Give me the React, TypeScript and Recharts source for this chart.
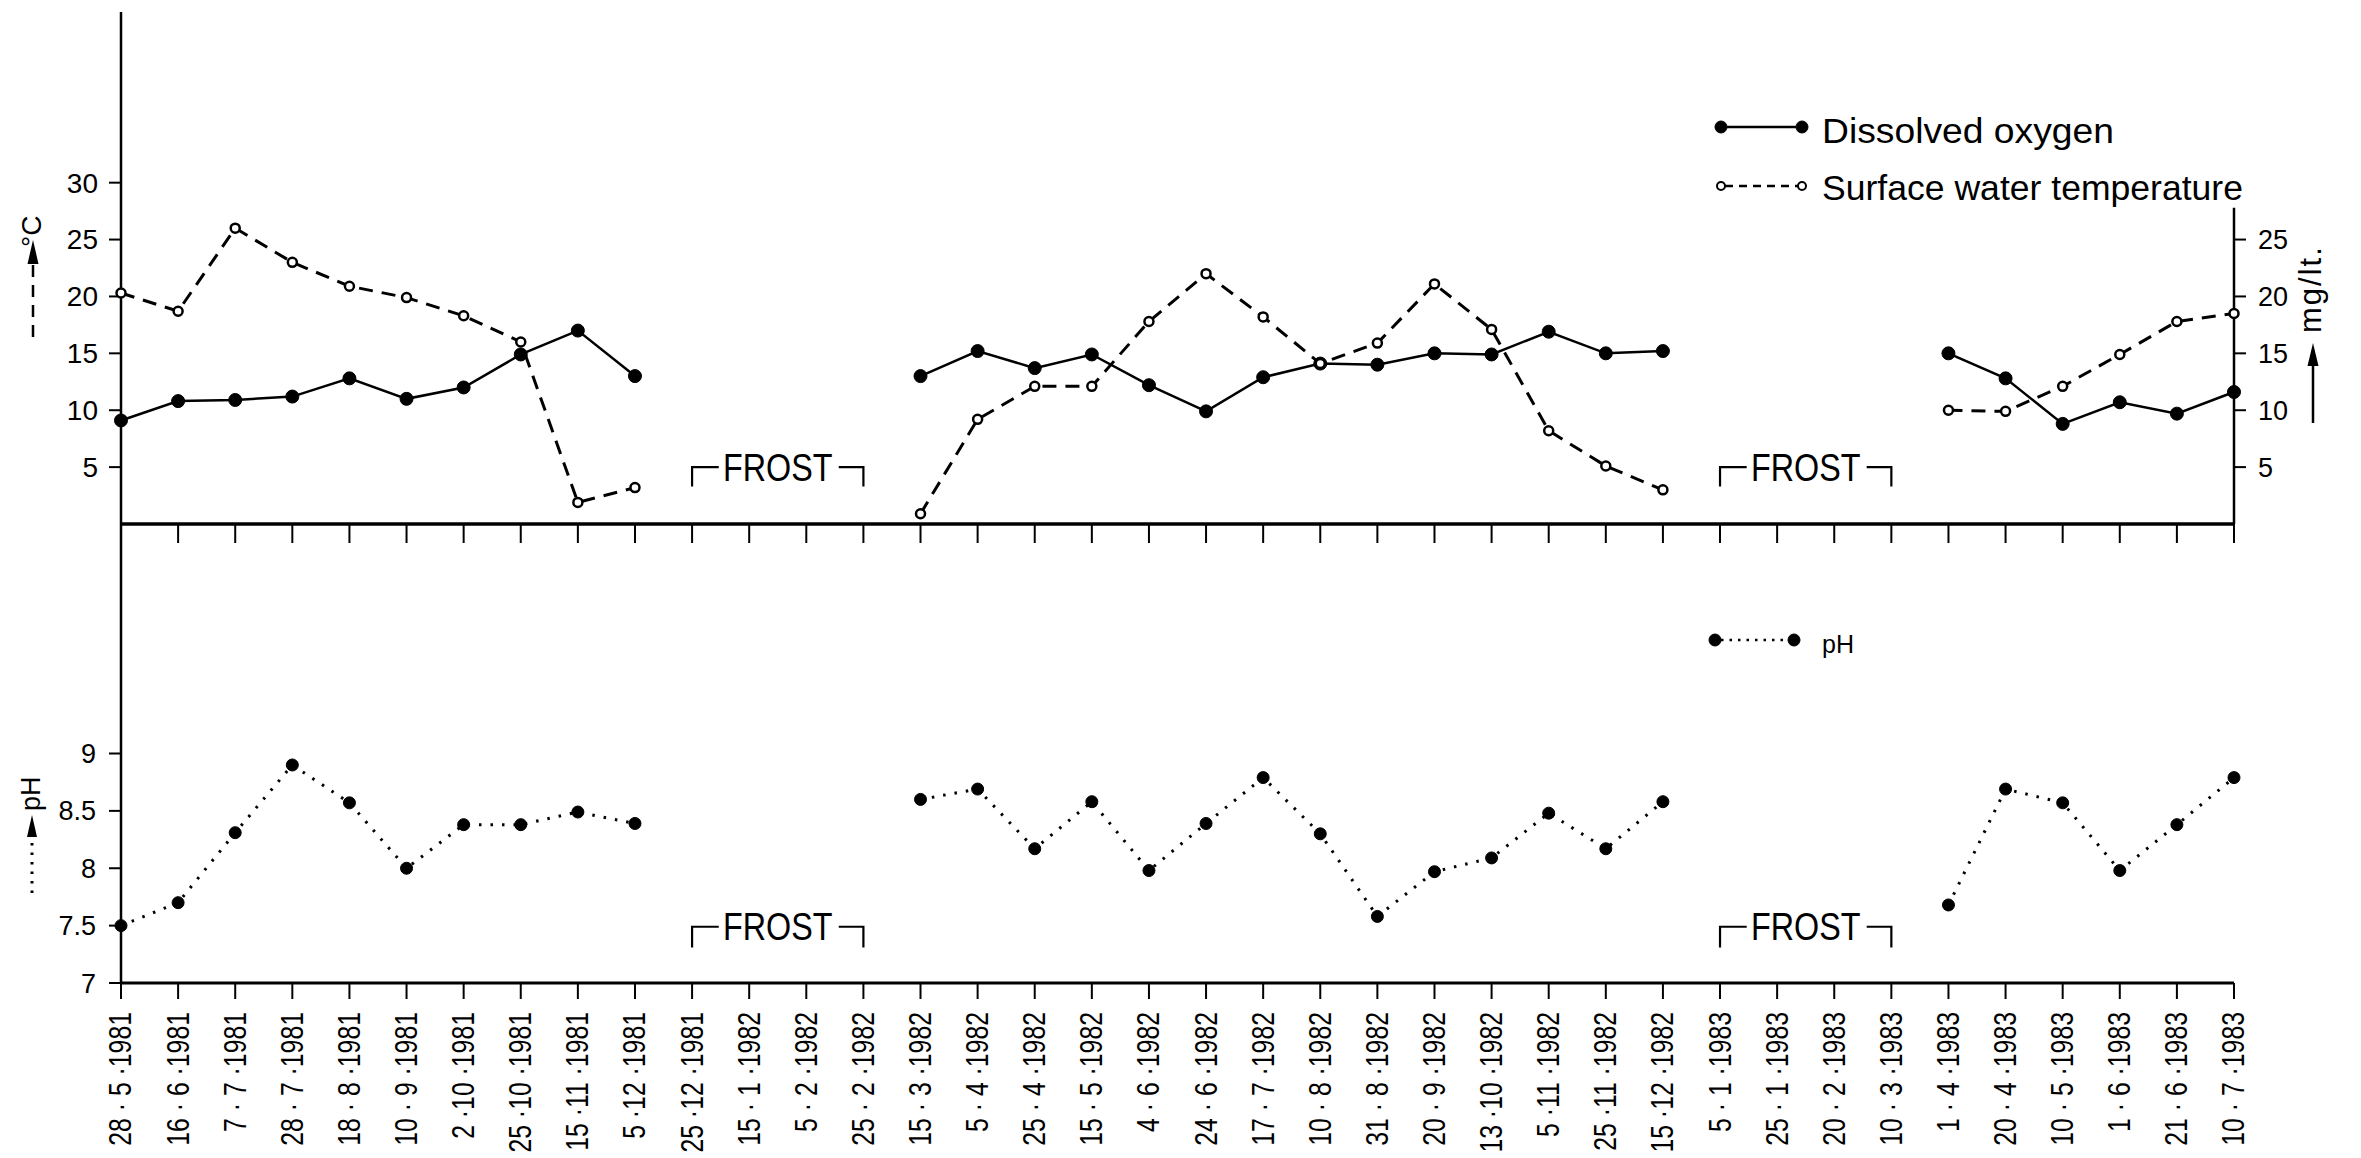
import React from 'react';
import { LineChart, Line, XAxis, YAxis, ReferenceArea, ReferenceLine, Legend } from 'recharts';

// ---------- data ----------
const dates: string[] = [
  '28 · 5 ·1981', '16 · 6 ·1981', '7 · 7 ·1981', '28 · 7 ·1981', '18 · 8 ·1981', '10 · 9 ·1981',
  '2 ·10 ·1981', '25 ·10 ·1981', '15 ·11 ·1981', '5 ·12 ·1981', '25 ·12 ·1981',
  '15 · 1 ·1982', '5 · 2 ·1982', '25 · 2 ·1982', '15 · 3 ·1982', '5 · 4 ·1982', '25 · 4 ·1982',
  '15 · 5 ·1982', '4 · 6 ·1982', '24 · 6 ·1982', '17 · 7 ·1982', '10 · 8 ·1982', '31 · 8 ·1982',
  '20 · 9 ·1982', '13 ·10 ·1982', '5 ·11 ·1982', '25 ·11 ·1982', '15 ·12 ·1982',
  '5 · 1 ·1983', '25 · 1 ·1983', '20 · 2 ·1983', '10 · 3 ·1983', '1 · 4 ·1983', '20 · 4 ·1983',
  '10 · 5 ·1983', '1 · 6 ·1983', '21 · 6 ·1983', '10 · 7 ·1983',
];

const dissolvedOxygen: (number | null)[] = [
  9.1, 10.8, 10.9, 11.2, 12.8, 11.0, 12.0, 14.9, 17.0, 13.0,
  null, null, null, null,
  13.0, 15.2, 13.7, 14.9, 12.2, 9.9, 12.9, 14.1, 14.0, 15.0, 14.9, 16.9, 15.0, 15.2,
  null, null, null, null,
  15.0, 12.8, 8.8, 10.7, 9.7, 11.6,
];

const waterTemperature: (number | null)[] = [
  20.3, 18.7, 26.0, 23.0, 20.9, 19.9, 18.3, 16.0, 1.9, 3.2,
  null, null, null, null,
  0.9, 9.2, 12.1, 12.1, 17.8, 22.0, 18.2, 14.1, 15.9, 21.1, 17.1, 8.2, 5.1, 3.0,
  null, null, null, null,
  10.0, 9.9, 12.1, 14.9, 17.8, 18.5,
];

const phValues: (number | null)[] = [
  7.5, 7.7, 8.31, 8.9, 8.57, 8.0, 8.38, 8.38, 8.49, 8.39,
  null, null, null, null,
  8.6, 8.69, 8.17, 8.58, 7.98, 8.39, 8.79, 8.3, 7.58, 7.97, 8.09, 8.48, 8.17, 8.58,
  null, null, null, null,
  7.68, 8.69, 8.57, 7.98, 8.38, 8.79,
];

const tempTicks = [5, 10, 15, 20, 25, 30];
const oxygenTicks = [5, 10, 15, 20, 25];
const phTicks = [7, 7.5, 8, 8.5, 9];
const frostPeriods: [string, string][] = [
  ['25 ·12 ·1981', '25 · 2 ·1982'],
  ['5 · 1 ·1983', '10 · 3 ·1983'],
];

const upperData = dates.map((d, i) => ({ date: d, oxygen: dissolvedOxygen[i], temp: waterTemperature[i] }));
const lowerData = dates.map((d, i) => ({ date: d, ph: phValues[i] }));

// ---------- drawing helpers ----------
const INK = '#000';
const FONT = '"Liberation Sans", Arial, Helvetica, sans-serif';

const EmptyTick = () => <g />;

const DateTick = (props: any) => {
  const { x, y, payload } = props;
  return (
    <text
      transform={`translate(${x} ${y}) rotate(-90) scale(0.8 1)`}
      textAnchor="end"
      dominantBaseline="central"
      fontSize={31}
      fill={INK}
      fontFamily={FONT}
    >
      {payload.value}
    </text>
  );
};

const OpenDot = (props: any) => {
  const { cx, cy, value, index } = props;
  if (value == null || cx == null || cy == null || isNaN(cx) || isNaN(cy)) return <g key={`od-${index}`} />;
  return <circle key={`od-${index}`} cx={cx} cy={cy} r={4.5} fill="#fff" stroke={INK} strokeWidth={2.5} />;
};

const FrostShape = (props: any) => {
  const { x, y, width, height } = props;
  const cx = x + width / 2;
  const half = 55;
  return (
    <g>
      <path d={`M${x},${y + height} L${x},${y} L${cx - half - 4},${y}`} stroke={INK} strokeWidth={2.2} fill="none" />
      <path d={`M${cx + half + 6},${y} L${x + width},${y} L${x + width},${y + height}`} stroke={INK} strokeWidth={2.2} fill="none" />
      <text
        transform={`translate(${cx} ${y}) scale(0.85 1)`}
        textAnchor="middle"
        dominantBaseline="central"
        fontSize={38}
        fill={INK}
        fontFamily={FONT}
      >
        FROST
      </text>
    </g>
  );
};

const CelsiusLabel = () => (
  <g>
    <line x1={33} y1={337} x2={33} y2={262} stroke={INK} strokeWidth={2.5} strokeDasharray="12 8" />
    <path d="M33,240 L27.5,264 L38.5,264 Z" fill={INK} />
    <text transform="translate(31 247) rotate(-90)" textAnchor="start" dominantBaseline="central" fontSize={28} fill={INK} fontFamily={FONT}>
      °C
    </text>
  </g>
);

const MgLabel = () => (
  <g>
    <line x1={2313} y1={423} x2={2313} y2={362} stroke={INK} strokeWidth={2.5} />
    <path d="M2313,343 L2307.5,366 L2318.5,366 Z" fill={INK} />
    <text transform="translate(2321 333) rotate(-90)" textAnchor="start" fontSize={31} letterSpacing={2} fill={INK} fontFamily={FONT}>
      mg/lt.
    </text>
  </g>
);

const PhAxisLabel = () => (
  <g>
    <line x1={32} y1={369} x2={32} y2={311} stroke={INK} strokeWidth={3} strokeDasharray="2.5 7" />
    <path d="M32,291 L27,313 L37,313 Z" fill={INK} />
    <text transform="translate(31 287) rotate(-90)" textAnchor="start" dominantBaseline="central" fontSize={27} fill={INK} fontFamily={FONT}>
      pH
    </text>
  </g>
);

const legendLook: Record<string, any> = {
  oxygen: { y: 27, textY: 43, fontSize: 35, textLength: 292, filled: true, r: 6, dash: undefined, x1: 21, x2: 102 },
  temp: { y: 86, textY: 100, fontSize: 35, textLength: 421, filled: false, r: 4, dash: '8 6', x1: 21, x2: 102 },
  ph: { y: 16, textY: 29, fontSize: 25, textLength: undefined, filled: true, r: 6, dash: '2.5 6', x1: 15, x2: 94 },
};

const LegendContent = (props: any) => {
  const payload = props.payload || [];
  return (
    <svg width={620} height={130} style={{ overflow: 'visible' }}>
      {payload.map((entry: any) => {
        const look = legendLook[entry.dataKey as string];
        if (!look) return null;
        const dotProps = look.filled
          ? { fill: INK, stroke: INK, strokeWidth: 1 }
          : { fill: '#fff', stroke: INK, strokeWidth: 2 };
        return (
          <g key={entry.dataKey}>
            <line
              x1={look.x1 + look.r}
              y1={look.y}
              x2={look.x2 - look.r}
              y2={look.y}
              stroke={INK}
              strokeWidth={2.5}
              strokeDasharray={look.dash}
            />
            <circle cx={look.x1} cy={look.y} r={look.r} {...dotProps} />
            <circle cx={look.x2} cy={look.y} r={look.r} {...dotProps} />
            <text
              x={122}
              y={look.textY}
              fontSize={look.fontSize}
              fill={INK}
              fontFamily={FONT}
              textLength={look.textLength}
              lengthAdjust="spacingAndGlyphs"
            >
              {entry.value}
            </text>
          </g>
        );
      })}
    </svg>
  );
};

export default function App() {
  const lastDate = dates[dates.length - 1];
  return (
    <div
      style={{
        position: 'absolute',
        left: 0,
        top: 0,
        width: 2361,
        height: 1158,
        background: '#fff',
        fontFamily: FONT,
        overflow: 'hidden',
      }}
    >
      {/* lower panel: pH */}
      <div style={{ position: 'absolute', left: 0, top: 524 }}>
        <LineChart width={2361} height={634} data={lowerData} margin={{ top: 0, right: 127, bottom: 0, left: 0 }}>
          <XAxis
            dataKey="date"
            scale="point"
            interval={0}
            height={175}
            tickSize={16}
            tickMargin={13}
            tick={DateTick}
            axisLine={{ stroke: INK, strokeWidth: 3 }}
            tickLine={{ stroke: INK, strokeWidth: 2 }}
          />
          <YAxis
            yAxisId="ph"
            type="number"
            domain={[7, 11]}
            ticks={phTicks}
            width={121}
            tickSize={12}
            tickMargin={13}
            axisLine={{ stroke: INK, strokeWidth: 2.5 }}
            tickLine={{ stroke: INK, strokeWidth: 2 }}
            tick={{ fontSize: 27, fill: INK }}
            label={{ content: PhAxisLabel }}
          />
          {frostPeriods.map(([a, b]) => (
            <ReferenceArea key={a} yAxisId="ph" x1={a} x2={b} y1={7.31} y2={7.49} shape={FrostShape} />
          ))}
          <Line
            yAxisId="ph"
            dataKey="ph"
            name="pH"
            stroke={INK}
            strokeWidth={3}
            strokeDasharray="2.5 9"
            dot={{ r: 6, fill: INK, stroke: INK, strokeWidth: 1, strokeDasharray: '0' }}
            activeDot={false}
            isAnimationActive={false}
          />
          <Legend
            layout="vertical"
            verticalAlign="middle"
            align="center"
            content={LegendContent}
            wrapperStyle={{ left: 1700, top: 100, width: 620, height: 130 }}
          />
        </LineChart>
      </div>

      {/* upper panel: temperature and dissolved oxygen */}
      <div style={{ position: 'absolute', left: 0, top: 0 }}>
        <LineChart width={2361} height={560} data={upperData} margin={{ top: 12, right: 0, bottom: 0, left: 0 }}>
          <XAxis
            dataKey="date"
            scale="point"
            interval={0}
            height={36}
            tickSize={19}
            tick={EmptyTick}
            axisLine={{ stroke: INK, strokeWidth: 3.5 }}
            tickLine={{ stroke: INK, strokeWidth: 2 }}
          />
          <YAxis
            yAxisId="temp"
            type="number"
            domain={[0, 45]}
            ticks={tempTicks}
            width={121}
            tickSize={12}
            tickMargin={11}
            axisLine={{ stroke: INK, strokeWidth: 2.5 }}
            tickLine={{ stroke: INK, strokeWidth: 2 }}
            tick={{ fontSize: 28, fill: INK }}
            label={{ content: CelsiusLabel }}
          />
          <YAxis
            yAxisId="oxygen"
            orientation="right"
            type="number"
            domain={[0, 45]}
            ticks={oxygenTicks}
            width={127}
            tickSize={12}
            tickMargin={12}
            axisLine={false}
            tickLine={{ stroke: INK, strokeWidth: 2 }}
            tick={{ fontSize: 27, fill: INK }}
            label={{ content: MgLabel }}
          />
          <ReferenceLine
            yAxisId="oxygen"
            segment={[{ x: lastDate, y: 0 }, { x: lastDate, y: 27.8 }]}
            stroke={INK}
            strokeWidth={2.5}
          />
          {frostPeriods.map(([a, b]) => (
            <ReferenceArea key={a} yAxisId="temp" x1={a} x2={b} y1={3.3} y2={5} shape={FrostShape} />
          ))}
          <Line
            yAxisId="oxygen"
            dataKey="oxygen"
            name="Dissolved oxygen"
            stroke={INK}
            strokeWidth={2.5}
            dot={{ r: 6.5, fill: INK, stroke: INK, strokeWidth: 1 }}
            activeDot={false}
            isAnimationActive={false}
          />
          <Line
            yAxisId="temp"
            dataKey="temp"
            name="Surface water temperature"
            stroke={INK}
            strokeWidth={3}
            strokeDasharray="14 9"
            dot={OpenDot}
            activeDot={false}
            isAnimationActive={false}
          />
          <Legend
            layout="vertical"
            verticalAlign="middle"
            align="center"
            content={LegendContent}
            wrapperStyle={{ left: 1700, top: 100, width: 620, height: 130 }}
          />
        </LineChart>
      </div>
    </div>
  );
}
